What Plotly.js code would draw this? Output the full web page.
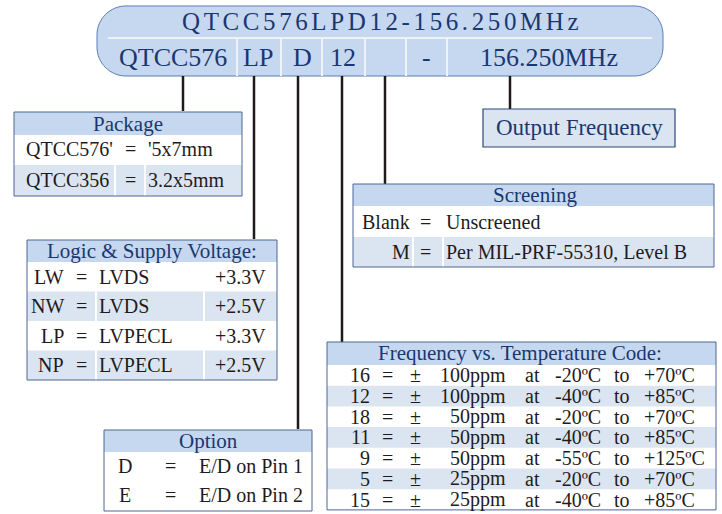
<!DOCTYPE html>
<html>
<head>
<meta charset="utf-8">
<script src="https://cdn.plot.ly/plotly-3.0.1.min.js"></script>
<style>html,body{margin:0;padding:0;background:#fff;}#chart{width:722px;height:514px;}</style>
</head>
<body>
<div id="chart"></div>
<script>
// ---------- content ----------
const partNumber = "QTCC576LPD12-156.250MHz";
const partSegments = ["QTCC576", "LP", "D", "12", "", "-", "156.250MHz"];

const packageTitle = "Package";
const packageCodes = ["QTCC576'", "QTCC356"];
const packageSizes = ["'5x7mm", "3.2x5mm"];

const logicTitle = "Logic & Supply Voltage:";
const logicCodes = ["LW", "NW", "LP", "NP"];
const logicTypes = ["LVDS", "LVDS", "LVPECL", "LVPECL"];
const logicVolts = ["+3.3V", "+2.5V", "+3.3V", "+2.5V"];

const screenTitle = "Screening";
const screenCodes = ["Blank", "M"];
const screenDesc = ["Unscreened", "Per MIL-PRF-55310, Level B"];

const outputTitle = "Output Frequency";

const freqTitle = "Frequency vs. Temperature Code:";
const freqCodes = ["16", "12", "18", "11", "9", "5", "15"];
const freqPpm = ["100ppm", "100ppm", "50ppm", "50ppm", "50ppm", "25ppm", "25ppm"];
const freqLow = ["-20ºC", "-40ºC", "-20ºC", "-40ºC", "-55ºC", "-20ºC", "-40ºC"];
const freqHigh = ["+70ºC", "+85ºC", "+70ºC", "+85ºC", "+125ºC", "+70ºC", "+85ºC"];

const optionTitle = "Option";
const optionCodes = ["D", "E"];
const optionDesc = ["E/D on Pin 1", "E/D on Pin 2"];

// ---------- styling ----------
const SERIF = "Liberation Serif, Times New Roman, serif";
const NAVY = "#1a376f";
const INK = "#1f1b1c";
const HEAD = "#c5d8f0";
const STRIPE = "#dbe5f2";
const BORDER = "#4d6794";
const SEP = "#eef3fa";

const shapes = [];
const ann = [];

function rect(x0, y0, x1, y1, fill, line, lw) {
  shapes.push({type: "rect", xref: "x", yref: "y", x0, y0, x1, y1, fillcolor: fill,
    line: {color: line || "rgba(0,0,0,0)", width: lw || 0}, layer: "below"});
}
function seg(x0, y0, x1, y1, color, w) {
  shapes.push({type: "line", xref: "x", yref: "y", x0, y0, x1, y1, line: {color, width: w}});
}
function txt(s, x, y, anchor, size, color) {
  ann.push({text: s, x, y, xref: "x", yref: "y", xanchor: anchor, yanchor: "middle",
    showarrow: false, font: {family: SERIF, size, color}});
}
function boxOutline(x0, y0, x1, y1) {
  shapes.push({type: "rect", xref: "x", yref: "y", x0, y0, x1, y1, fillcolor: "rgba(0,0,0,0)",
    line: {color: BORDER, width: 1}, layer: "above"});
}

// ---------- part number pill ----------
(function () {
  const x0 = 97, x1 = 663, y0 = 6, y1 = 76, r = 29, k = 0.552 * r;
  const p = `M ${x0 + r},${y0} L ${x1 - r},${y0} C ${x1 - r + k},${y0} ${x1},${y0 + r - k} ${x1},${y0 + r}` +
    ` L ${x1},${y1 - r} C ${x1},${y1 - r + k} ${x1 - r + k},${y1} ${x1 - r},${y1}` +
    ` L ${x0 + r},${y1} C ${x0 + r - k},${y1} ${x0},${y1 - r + k} ${x0},${y1 - r}` +
    ` L ${x0},${y0 + r} C ${x0},${y0 + r - k} ${x0 + r - k},${y0} ${x0 + r},${y0} Z`;
  shapes.push({type: "path", path: p, xref: "x", yref: "y", fillcolor: HEAD,
    line: {color: "#5b7cb3", width: 1}, layer: "below"});
  seg(108, 38, 652, 38, SEP, 2);
  const edges = [237, 281, 322, 365, 406, 447];
  edges.forEach(e => seg(e, 39, e, 76, SEP, 2));
  ann.push({text: `<span style="letter-spacing:3.6px">${partNumber}</span>`, x: 382, y: 21,
    xref: "x", yref: "y", xanchor: "center", yanchor: "middle", showarrow: false,
    font: {family: SERIF, size: 25, color: NAVY}});
  const centers = [173, 258, 302, 343, 385, 426, 549];
  partSegments.forEach((s, i) => { if (s) txt(s, centers[i], 57, "center", 26, NAVY); });
})();

// ---------- connector lines ----------
[[183, 111], [254, 239], [298, 429], [342, 342], [385, 184], [510, 109]]
  .forEach(([x, yEnd]) => seg(x, 76, x, yEnd, INK, 2.5));

// ---------- Package ----------
(function () {
  const x0 = 14, x1 = 242, top = 112, hb = 135, rows = [135, 165, 196];
  rect(x0, top, x1, hb, HEAD);
  rect(x0, rows[1], x1, rows[2], STRIPE);
  seg(115, rows[1], 115, rows[2], "#ffffff", 2);
  seg(145, rows[1], 145, rows[2], "#ffffff", 2);
  boxOutline(x0, top, x1, rows[2]);
  txt(packageTitle, 128, 124, "center", 21, NAVY);
  const ys = [149, 180];
  packageCodes.forEach((c, i) => {
    txt(c, 24, ys[i], "left", 20, INK);
    txt("=", 130, ys[i], "center", 20, INK);
    txt(packageSizes[i], 146, ys[i], "left", 20, INK);
  });
})();

// ---------- Logic & Supply ----------
(function () {
  const x0 = 27, x1 = 277, top = 240, hb = 262, rh = 29.5;
  rect(x0, top, x1, hb, HEAD);
  logicCodes.forEach((c, i) => {
    const ya = hb + i * rh, yb = ya + rh, y = (ya + yb) / 2;
    if (i % 2 === 1) {
      rect(x0, ya, x1, yb, STRIPE);
      seg(96, ya, 96, yb, "#ffffff", 2);
      seg(204, ya, 204, yb, "#ffffff", 2);
    }
    txt(c, 66, y, "right", 20, INK);
    txt("=", 81, y, "center", 20, INK);
    txt(logicTypes[i], 97, y, "left", 20, INK);
    txt(logicVolts[i], 268, y, "right", 20, INK);
  });
  boxOutline(x0, top, x1, hb + 4 * rh);
  txt(logicTitle, 152, 251, "center", 21, NAVY);
})();

// ---------- Screening ----------
(function () {
  const x0 = 353, x1 = 714, top = 184, hb = 206, rows = [206, 237, 267];
  rect(x0, top, x1, hb, HEAD);
  rect(x0, rows[1], x1, rows[2], STRIPE);
  seg(413, rows[1], 413, rows[2], "#ffffff", 2);
  seg(443, rows[1], 443, rows[2], "#ffffff", 2);
  boxOutline(x0, top, x1, rows[2]);
  txt(screenTitle, 535, 195, "center", 21, NAVY);
  screenCodes.forEach((c, i) => {
    const y = (rows[i] + rows[i + 1]) / 2;
    if (i === 0) txt(c, 360, y, "left", 20, INK); else txt(c, 412, y, "right", 20, INK);
    txt("=", 425, y, "center", 20, INK);
    txt(screenDesc[i], 444, y, "left", 20, INK);
  });
})();

// ---------- Output Frequency ----------
rect(483, 109, 675, 147, STRIPE);
shapes.push({type: "rect", xref: "x", yref: "y", x0: 483, y0: 109, x1: 675, y1: 147,
  fillcolor: "rgba(0,0,0,0)", line: {color: "#2c4677", width: 1.2}, layer: "above"});
txt(outputTitle, 579, 127, "center", 23, NAVY);

// ---------- Frequency vs Temperature ----------
(function () {
  const x0 = 327, x1 = 716, top = 342, hb = 365, rh = 20.7;
  rect(x0, top, x1, hb, HEAD);
  freqCodes.forEach((c, i) => {
    const ya = hb + i * rh, yb = ya + rh, y = (ya + yb) / 2;
    if (i % 2 === 1) rect(x0, ya, x1, yb, STRIPE);
    txt(c, 372, y, "right", 20, INK);
    txt("=", 387, y, "center", 20, INK);
    txt("±", 415, y, "center", 20, INK);
    txt(freqPpm[i], 508, y, "right", 20, INK);
    txt("at", 532, y, "center", 20, INK);
    txt(freqLow[i], 553, y, "left", 20, INK);
    txt("to", 622, y, "center", 20, INK);
    txt(freqHigh[i], 642, y, "left", 20, INK);
  });
  boxOutline(x0, top, x1, hb + freqCodes.length * rh);
  txt(freqTitle, 520, 353, "center", 21, NAVY);
})();

// ---------- Option ----------
(function () {
  const x0 = 104, x1 = 312, top = 430, hb = 452, bottom = 511;
  rect(x0, top, x1, hb, HEAD);
  boxOutline(x0, top, x1, bottom);
  txt(optionTitle, 208, 441, "center", 21, NAVY);
  const ys = [466, 495];
  optionCodes.forEach((c, i) => {
    txt(c, 125, ys[i], "center", 20, INK);
    txt("=", 170, ys[i], "center", 20, INK);
    txt(optionDesc[i], 197, ys[i], "left", 20, INK);
  });
})();

const layout = {
  width: 722, height: 514,
  margin: {l: 0, r: 0, t: 0, b: 0, pad: 0},
  paper_bgcolor: "#ffffff", plot_bgcolor: "#ffffff",
  xaxis: {range: [0, 722], visible: false, fixedrange: true},
  yaxis: {range: [514, 0], visible: false, fixedrange: true},
  showlegend: false,
  shapes: shapes,
  annotations: ann
};
Plotly.newPlot("chart", [{x: [], y: [], type: "scatter", mode: "markers", hoverinfo: "skip"}], layout,
  {staticPlot: true, displayModeBar: false});
</script>
</body>
</html>
